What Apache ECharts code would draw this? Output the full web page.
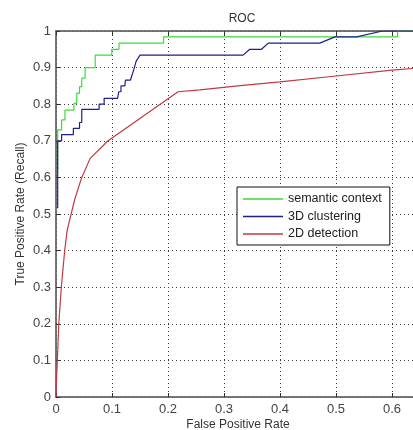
<!DOCTYPE html>
<html>
<head>
<meta charset="utf-8">
<script src="https://cdn.jsdelivr.net/npm/echarts@6/dist/echarts.min.js"></script>
<style>html,body{margin:0;padding:0;background:#fff;}#c{width:413px;height:430px;}</style>
</head>
<body>
<div id="c"></div>
<script>
var seriesNames = ['semantic context', '3D clustering', '2D detection'];

var semanticFPR = [0.003,0.003,0.01,0.01,0.016,0.016,0.032,0.032,0.037,0.037,0.042,0.042,0.046,0.046,0.052,0.052,0.07,0.07,0.0995,0.0995,0.1125,0.1125,0.192,0.192,0.61,0.61,0.65];
var semanticTPR = [0.62,0.73,0.73,0.757,0.757,0.784,0.784,0.802,0.802,0.83,0.83,0.848,0.848,0.871,0.871,0.9,0.9,0.934,0.934,0.95,0.95,0.967,0.967,0.984,0.984,1,1];

var clusterFPR = [0.003,0.003,0.01,0.01,0.031,0.031,0.042,0.042,0.046,0.046,0.077,0.077,0.086,0.086,0.11,0.112,0.116,0.116,0.123,0.124,0.133,0.14,0.143,0.15,0.334,0.346,0.367,0.379,0.471,0.498,0.537,0.583,0.65];
var clusterTPR = [0.516,0.70,0.70,0.717,0.717,0.734,0.734,0.75,0.75,0.786,0.786,0.80,0.80,0.816,0.816,0.834,0.834,0.85,0.85,0.866,0.866,0.9,0.917,0.934,0.934,0.95,0.95,0.967,0.967,0.984,0.984,1,1];

var detectFPR = [0,0.001,0.0024,0.005,0.0095,0.0155,0.02,0.027,0.034,0.046,0.061,0.093,0.218,0.257,0.329,0.4,0.5,0.6,0.65];
var detectTPR = [0,0.05,0.1,0.2,0.3,0.4,0.456,0.5,0.543,0.6,0.652,0.70,0.834,0.839,0.851,0.861,0.877,0.893,0.899];

var xTicks = [0,0.1,0.2,0.3,0.4,0.5,0.6];
var yTicks = [0,0.1,0.2,0.3,0.4,0.5,0.6,0.7,0.8,0.9,1];

function pairs(xs, ys){ return xs.map(function(x,i){ return [x, ys[i]]; }); }

var font = 'Liberation Sans, Arial, sans-serif';
var chart = echarts.init(document.getElementById('c'), null, {renderer:'canvas'});
var gridLine = {show:true, lineStyle:{color:'#3a3a3a', type:[1,3], width:1}};
chart.setOption({
  animation:false,
  backgroundColor:'#fff',
  title:{text:'ROC', left:237, top:8, textAlign:'center', textStyle:{fontFamily:font, fontSize:12, fontWeight:'normal', color:'#333'}},
  grid:{left:56, top:31, right:-7, bottom:33, show:true, borderColor:'#6e6e6e', borderWidth:1.5, containLabel:false, outerBoundsMode:'none'},
  legend:{
    orient:'vertical', left:237, top:187, icon:'rect', itemWidth:40, itemHeight:1.5, itemGap:3.5,
    padding:[5,8,4,6], borderColor:'#111', borderWidth:1, backgroundColor:'#fff',
    textStyle:{fontFamily:font, fontSize:12.5, lineHeight:14, color:'#222'},
    data:seriesNames
  },
  xAxis:[{
    type:'value', min:0, max:0.65, interval:0.1,
    name:'False Positive Rate', nameLocation:'middle', nameGap:22, nameMoveOverlap:false,
    nameTextStyle:{fontFamily:font, fontSize:12, color:'#333'},
    axisLine:{show:true, lineStyle:{color:'#6e6e6e', width:1.5}},
    axisTick:{show:true, inside:true, length:4, lineStyle:{color:'#333'}},
    axisLabel:{fontFamily:font, fontSize:13, color:'#444', margin:6, showMaxLabel:false,
      formatter:function(v){ return xTicks.indexOf(Math.round(v*10)/10)>=0 && Math.abs(v*10-Math.round(v*10))<1e-6 ? String(Math.round(v*10)/10) : ''; }},
    splitLine:gridLine
  },{
    type:'value', position:'top', min:0, max:0.65, interval:0.1,
    axisLine:{show:true, lineStyle:{color:'#6e6e6e', width:1.5}},
    axisTick:{show:true, inside:true, length:4, lineStyle:{color:'#333'}},
    axisLabel:{show:false}, splitLine:{show:false}
  }],
  yAxis:{
    type:'value', min:0, max:1, interval:0.1,
    name:'True Positive Rate (Recall)', nameLocation:'middle', nameGap:29, nameMoveOverlap:false,
    nameTextStyle:{fontFamily:font, fontSize:12, color:'#333'},
    axisLine:{show:true, lineStyle:{color:'#6e6e6e', width:1.5}},
    axisTick:{show:true, inside:true, length:4, lineStyle:{color:'#333'}},
    axisLabel:{fontFamily:font, fontSize:13, color:'#444', margin:5,
      formatter:function(v){ var r=Math.round(v*10)/10; return yTicks.indexOf(r)>=0 ? String(r) : ''; }},
    splitLine:gridLine
  },
  series:[
    {name:seriesNames[0], type:'line', symbol:'none', data:pairs(semanticFPR, semanticTPR), lineStyle:{color:'#3ddc3d', width:1.2}, itemStyle:{color:'#3ddc3d'}, z:3},
    {name:seriesNames[1], type:'line', symbol:'none', data:pairs(clusterFPR, clusterTPR), lineStyle:{color:'#1f1f8a', width:1.2}, itemStyle:{color:'#1f1f8a'}, z:4},
    {name:seriesNames[2], type:'line', symbol:'none', data:pairs(detectFPR, detectTPR), lineStyle:{color:'#c03a40', width:1.2}, itemStyle:{color:'#c03a40'}, z:2}
  ]
});
</script>
</body>
</html>
